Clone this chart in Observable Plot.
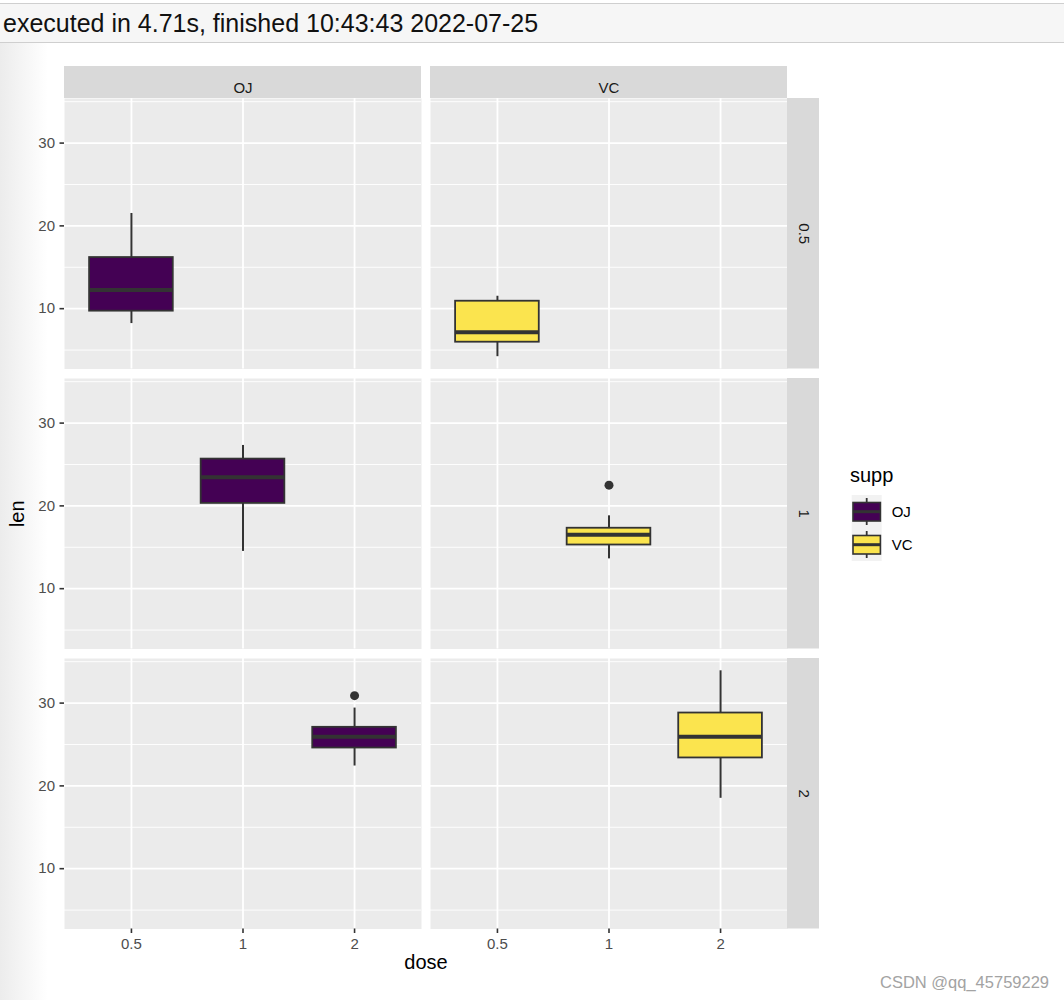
<!DOCTYPE html>
<html>
<head>
<meta charset="utf-8">
<script src="https://cdn.jsdelivr.net/npm/d3@7"></script>
<script src="https://cdn.jsdelivr.net/npm/@observablehq/plot@0.6"></script>
<style>
html, body { margin: 0; padding: 0; background: #ffffff; }
body { width: 1064px; height: 1000px; position: relative; overflow: hidden;
  font-family: "Liberation Sans", Arial, Helvetica, sans-serif; }
#gutter { position: absolute; left: 0; top: 42px; width: 48px; height: 958px;
  background: linear-gradient(to right, #ececec, #ffffff); }
#topbar { position: absolute; left: 0; top: 2.5px; width: 1064px; height: 38px;
  background: #f6f6f6; border-top: 1px solid #cfcfcf; border-bottom: 1px solid #cfcfcf; }
#topbar span { position: absolute; left: 3px; top: 0.5px; line-height: 38px; font-size: 25px; color: #111111; white-space: nowrap; }
#chart { position: absolute; left: 0; top: 50px; }
#legend { position: absolute; left: 840px; top: 460px; }
#wm { position: absolute; left: 880px; top: 972px; font-size: 16.5px; line-height: 20px; color: #a3a3a3; white-space: nowrap; }
</style>
</head>
<body>
<div id="gutter"></div>
<div id="topbar"><span>executed in 4.71s, finished 10:43:43 2022-07-25</span></div>
<div id="chart"></div>
<div id="legend"></div>
<div id="wm">CSDN @qq_45759229</div>
<script>
// ---- data (ToothGrowth: len by supp × dose), box summaries ----
const supps = ["OJ", "VC"];
const doses = ["0.5", "1", "2"];
const boxSupp = ["OJ", "OJ", "OJ", "VC", "VC", "VC"];
const boxDose = ["0.5", "1", "2", "0.5", "1", "2"];
const whiskerLow  = [8.2, 14.5, 22.4, 4.2, 13.6, 18.5];
const quart1      = [9.7, 20.3, 24.575, 5.95, 15.275, 23.375];
const medians     = [12.25, 23.45, 25.95, 7.15, 16.5, 25.95];
const quart3      = [16.175, 25.65, 27.075, 10.9, 17.3, 28.8];
const whiskerHigh = [21.5, 27.3, 29.4, 11.5, 18.8, 33.9];
const outlierSupp = ["VC", "OJ"];
const outlierDose = ["1", "2"];
const outlierLen  = [22.5, 30.9];
const yMajorTicks = [10, 20, 30];
const yMinorTicks = [5, 15, 25, 35];
const suppFills = ["#440154", "#FBE44E"];

const boxes = boxSupp.map((s, i) => ({
  supp: s, dose: boxDose[i], lo: whiskerLow[i], q1: quart1[i],
  med: medians[i], q3: quart3[i], hi: whiskerHigh[i]
}));
const outliers = outlierSupp.map((s, i) => ({supp: s, dose: outlierDose[i], len: outlierLen[i]}));

const lenMin = d3.min([...whiskerLow, ...outlierLen]);
const lenMax = d3.max([...whiskerHigh, ...outlierLen]);
const expand = (lenMax - lenMin) * 0.05;

// ---- layout ----
const W = 830, H = 940, mL = 64, mR = 43, mT = 48, mB = 61.5;
const fxPad = 0.0246, fyPad = 0.034;
const fxBand = d3.scaleBand(supps, [mL, W - mR]).paddingInner(fxPad).paddingOuter(0);
const fyBand = d3.scaleBand(doses, [mT, H - mB]).paddingInner(fyPad).paddingOuter(0);
const pw = fxBand.bandwidth(), ph = fyBand.bandwidth();
const gapX = fxBand.step() - pw;
const strip = 32;

const topStrips = supps.map(s => ({supp: s, dose: doses[0]}));
const rightStrips = doses.map(d => ({supp: supps[supps.length - 1], dose: d}));
const lenTitle = [{supp: supps[0], dose: doses[1], label: "len"}];
const doseTitle = [{supp: supps[0], dose: doses[doses.length - 1], label: "dose"}];

const chart = Plot.plot({
  width: W, height: H,
  marginLeft: mL, marginRight: mR, marginTop: mT, marginBottom: mB,
  style: {fontFamily: "'Liberation Sans', Arial, Helvetica, sans-serif", background: "transparent", overflow: "visible"},
  fx: {domain: supps, paddingInner: fxPad, paddingOuter: 0, round: false, axis: null},
  fy: {domain: doses, paddingInner: fyPad, paddingOuter: 0, round: false, axis: null},
  x: {type: "band", domain: doses, paddingInner: 0.25, paddingOuter: 0.225, round: false, axis: null},
  y: {domain: [lenMin - expand, lenMax + expand], axis: null},
  color: {domain: supps, range: suppFills},
  marks: [
    Plot.frame({fill: "#ebebeb"}),
    Plot.ruleY(yMinorTicks, {stroke: "#ffffff", strokeWidth: 0.9}),
    Plot.ruleY(yMajorTicks, {stroke: "#ffffff", strokeWidth: 1.8}),
    Plot.ruleX(doses, {x: d => d, stroke: "#ffffff", strokeWidth: 1.8}),
    Plot.ruleX(boxes, {fx: "supp", fy: "dose", x: "dose", y1: "lo", y2: "hi", stroke: "#333333", strokeWidth: 2}),
    Plot.barY(boxes, {fx: "supp", fy: "dose", x: "dose", y1: "q1", y2: "q3", fill: "supp", stroke: "#333333", strokeWidth: 1.8}),
    Plot.tickY(boxes, {fx: "supp", fy: "dose", x: "dose", y: "med", stroke: "#333333", strokeWidth: 4}),
    Plot.dot(outliers, {fx: "supp", fy: "dose", x: "dose", y: "len", r: 4.5, fill: "#333333", stroke: null}),
    Plot.rect(topStrips, {fx: "supp", fy: "dose", fill: "#d9d9d9", insetTop: -strip, insetBottom: ph}),
    Plot.text(topStrips, {fx: "supp", fy: "dose", text: "supp", frameAnchor: "top", dy: -strip / 2, fontSize: 15, fill: "#1a1a1a"}),
    Plot.rect(rightStrips, {fx: "supp", fy: "dose", fill: "#d9d9d9", insetLeft: pw, insetRight: -strip}),
    Plot.text(rightStrips, {fx: "supp", fy: "dose", text: "dose", frameAnchor: "right", textAnchor: "middle", dx: strip / 2, rotate: 90, fontSize: 15, fill: "#1a1a1a"}),
    Plot.axisY(yMajorTicks, {anchor: "left", tickSize: 4.5, tickPadding: 5, strokeWidth: 1.6, stroke: "#333333", fill: "#4d4d4d", fontSize: 15, label: null}),
    Plot.axisX(doses, {anchor: "bottom", tickSize: 4.5, tickPadding: 5, strokeWidth: 1.6, stroke: "#333333", fill: "#4d4d4d", fontSize: 15, label: null}),
    Plot.text(lenTitle, {fx: "supp", fy: "dose", text: "label", frameAnchor: "left", textAnchor: "middle", dx: -47, rotate: -90, fontSize: 20, fill: "#000000"}),
    Plot.text(doseTitle, {fx: "supp", fy: "dose", text: "label", frameAnchor: "bottom-right", textAnchor: "middle", dx: gapX / 2, dy: 40, fontSize: 20, fill: "#000000"})
  ]
});
document.getElementById("chart").appendChild(chart);

// ---- legend ----
const keyY = [35, 68];
const keyH = 33;
let svg = `<svg xmlns="http://www.w3.org/2000/svg" width="120" height="110" style="font-family:'Liberation Sans', Arial, Helvetica, sans-serif">`;
svg += `<text x="10" y="22" font-size="20" fill="#000">supp</text>`;
svg += `<rect x="11.7" y="${keyY[0]}" width="30" height="${keyH * 2}" fill="#f2f2f2"/>`;
supps.forEach((s, i) => {
  const y0 = keyY[i];
  svg += `<line x1="26.7" x2="26.7" y1="${y0 + 3}" y2="${y0 + 30}" stroke="#333" stroke-width="1.8"/>`;
  svg += `<rect x="13" y="${y0 + 7.5}" width="27.4" height="18.5" fill="${suppFills[i]}" stroke="#333" stroke-width="1.6"/>`;
  svg += `<line x1="13" x2="40.4" y1="${y0 + 16.7}" y2="${y0 + 16.7}" stroke="#333" stroke-width="3"/>`;
  svg += `<text x="51.7" y="${y0 + 17}" dy="0.35em" font-size="15" fill="#000">${s}</text>`;
});
svg += `</svg>`;
document.getElementById("legend").innerHTML = svg;
</script>
</body>
</html>
